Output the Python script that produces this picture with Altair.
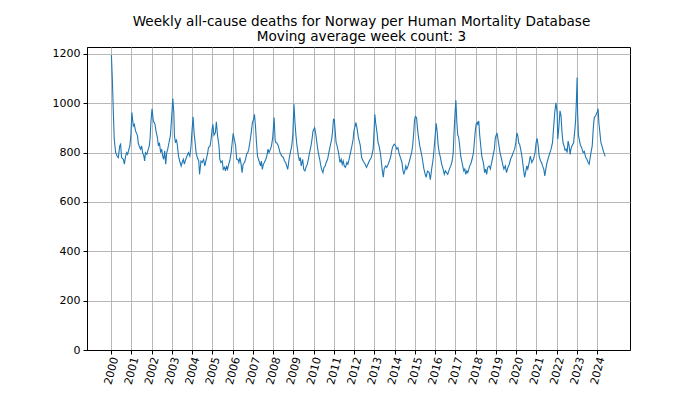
import altair as alt
import pandas as pd

title_lines = ["Weekly all-cause deaths for Norway per Human Mortality Database",
               "Moving average week count: 3"]
year_ticks = list(range(2000, 2025))
y_ticks = [0, 200, 400, 600, 800, 1000, 1200]

# (fraction of the year, weekly deaths, 3-week moving average)
d2000 = [(0.02,1195),(0.066,1097),(0.115,962),(0.16,854),(0.23,800),(0.3,786),(0.36,780),(0.43,827),(0.475,834),(0.52,780),(0.61,773),(0.66,753),(0.72,786),(0.77,800),(0.82,793),(0.885,814),(0.93,827),(0.98,870)]
d2001 = [(0.03,962),(0.1,908),(0.15,915),(0.21,888),(0.26,878),(0.31,868),(0.34,840),(0.39,827),(0.46,814),(0.51,827),(0.56,800),(0.62,787),(0.66,766),(0.7,800),(0.77,793),(0.84,814),(0.89,827),(0.93,860),(0.97,925)]
d2002 = [(0.025,978),(0.09,928),(0.17,915),(0.22,888),(0.29,861),(0.34,827),(0.39,840),(0.45,800),(0.5,814),(0.55,786),(0.6,773),(0.65,807),(0.7,753),(0.75,800),(0.8,814),(0.86,840),(0.93,868),(0.975,922)]
d2003 = [(0.05,1019),(0.1,962),(0.13,868),(0.18,840),(0.23,854),(0.28,827),(0.33,786),(0.39,766),(0.46,746),(0.51,760),(0.57,773),(0.62,753),(0.69,773),(0.75,786),(0.82,800),(0.89,786),(0.95,827),(0.99,880)]
d2004 = [(0.05,945),(0.1,880),(0.16,834),(0.2,800),(0.26,780),(0.33,766),(0.37,712),(0.44,766),(0.5,760),(0.57,773),(0.63,746),(0.7,773),(0.76,793),(0.81,820),(0.89,827),(0.94,854),(0.99,895)]
d2005 = [(0.03,915),(0.08,870),(0.15,880),(0.2,925),(0.26,868),(0.33,827),(0.37,773),(0.42,760),(0.49,766),(0.54,732),(0.6,740),(0.65,726),(0.7,746),(0.75,732),(0.81,753),(0.86,766),(0.93,800),(0.98,840)]
d2006 = [(0.03,878),(0.1,848),(0.15,827),(0.2,773),(0.26,773),(0.31,760),(0.36,780),(0.42,753),(0.47,719),(0.52,753),(0.59,760),(0.64,773),(0.69,793),(0.75,800),(0.8,814),(0.85,840),(0.92,881),(0.98,922)]
d2007 = [(0.04,935),(0.08,955),(0.13,908),(0.18,840),(0.23,786),(0.28,773),(0.33,760),(0.38,746),(0.42,766),(0.47,732),(0.52,753),(0.57,760),(0.64,773),(0.69,786),(0.75,814),(0.8,800),(0.87,814),(0.92,827),(0.98,860)]
d2008 = [(0.05,942),(0.1,850),(0.14,840),(0.18,840),(0.26,827),(0.34,800),(0.43,786),(0.51,780),(0.56,766),(0.62,760),(0.67,746),(0.72,732),(0.79,773),(0.85,800),(0.92,827),(0.97,868)]
d2009 = [(0.03,996),(0.08,921),(0.13,868),(0.18,827),(0.25,786),(0.3,766),(0.34,780),(0.39,746),(0.46,773),(0.51,732),(0.57,726),(0.62,740),(0.69,753),(0.74,773),(0.8,800),(0.87,827),(0.92,854),(0.97,888)]
d2010 = [(0.05,901),(0.11,874),(0.16,840),(0.23,800),(0.3,773),(0.34,753),(0.39,733),(0.46,719),(0.51,740),(0.57,746),(0.62,760),(0.69,773),(0.75,800),(0.82,827),(0.89,854),(0.93,881),(0.98,935)]
d2011 = [(0.02,935),(0.07,881),(0.11,840),(0.16,827),(0.23,800),(0.3,760),(0.36,773),(0.41,753),(0.46,766),(0.51,746),(0.57,740),(0.64,760),(0.69,753),(0.75,773),(0.82,800),(0.89,827),(0.95,854),(0.99,888)]
d2012 = [(0.04,905),(0.09,922),(0.14,900),(0.21,861),(0.3,830),(0.37,780),(0.45,765),(0.53,755),(0.61,740),(0.69,755),(0.77,770),(0.85,780),(0.94,815),(0.98,880)]
d2013 = [(0.02,955),(0.06,922),(0.13,881),(0.18,840),(0.23,827),(0.29,800),(0.34,766),(0.39,726),(0.44,700),(0.48,733),(0.55,746),(0.61,740),(0.68,753),(0.74,766),(0.81,786),(0.87,814),(0.92,827),(0.98,834)]
d2014 = [(0.05,827),(0.1,814),(0.16,820),(0.21,800),(0.26,786),(0.31,773),(0.36,760),(0.4,732),(0.45,712),(0.5,726),(0.55,746),(0.6,733),(0.66,746),(0.73,766),(0.79,786),(0.84,800),(0.89,830),(0.94,880),(0.98,930)]
d2015 = [(0.02,946),(0.08,942),(0.13,895),(0.18,861),(0.24,827),(0.31,800),(0.37,773),(0.44,735),(0.5,715),(0.55,700),(0.62,725),(0.7,720),(0.76,690),(0.82,730),(0.9,775),(0.96,830)]
d2016 = [(0.05,919),(0.1,881),(0.15,827),(0.2,800),(0.26,780),(0.32,753),(0.39,733),(0.45,712),(0.5,726),(0.56,719),(0.62,712),(0.7,733),(0.77,746),(0.84,766),(0.89,800),(0.93,880),(0.98,960)]
d2017 = [(0.02,1012),(0.07,922),(0.11,874),(0.16,861),(0.21,827),(0.26,786),(0.31,766),(0.36,746),(0.41,726),(0.46,733),(0.51,712),(0.56,726),(0.61,719),(0.66,733),(0.7,746),(0.75,753),(0.82,773),(0.89,800),(0.93,840),(0.98,888)]
d2018 = [(0.02,915),(0.07,922),(0.1,915),(0.15,928),(0.2,868),(0.25,827),(0.3,786),(0.34,773),(0.39,753),(0.44,719),(0.49,733),(0.54,712),(0.59,740),(0.66,746),(0.72,733),(0.79,760),(0.85,786),(0.92,814),(0.97,861)]
d2019 = [(0.05,880),(0.1,854),(0.15,827),(0.2,800),(0.26,780),(0.33,753),(0.39,733),(0.46,746),(0.52,719),(0.59,740),(0.66,753),(0.72,773),(0.79,786),(0.85,800),(0.92,814),(0.98,840)]
d2020 = [(0.03,880),(0.08,868),(0.12,840),(0.17,833),(0.25,800),(0.3,773),(0.36,733),(0.41,700),(0.46,719),(0.52,746),(0.57,733),(0.64,760),(0.69,786),(0.77,760),(0.85,773),(0.93,800),(0.98,840)]
d2021 = [(0.03,858),(0.08,830),(0.13,786),(0.2,766),(0.25,760),(0.3,746),(0.36,733),(0.41,706),(0.46,733),(0.52,760),(0.59,780),(0.66,800),(0.72,814),(0.79,840),(0.85,908),(0.9,962),(0.96,1002)]
d2022 = [(0.02,962),(0.05,854),(0.1,900),(0.16,969),(0.21,950),(0.26,881),(0.31,840),(0.36,827),(0.41,810),(0.46,814),(0.51,800),(0.56,847),(0.61,827),(0.66,793),(0.7,814),(0.75,827),(0.83,840),(0.88,880),(0.93,930),(0.97,1010)]
d2023 = [(0.005,1104),(0.03,960),(0.07,870),(0.12,850),(0.17,830),(0.23,820),(0.3,800),(0.36,805),(0.43,780),(0.48,775),(0.55,760),(0.6,753),(0.65,780),(0.7,805),(0.75,827),(0.8,895),(0.85,942),(0.92,949),(0.97,960)]
d2024 = [(0.0,965),(0.04,978),(0.08,920),(0.13,880),(0.18,840),(0.24,825),(0.3,805),(0.35,795),(0.39,785)]

yearly = [d2000, d2001, d2002, d2003, d2004, d2005, d2006, d2007, d2008, d2009,
          d2010, d2011, d2012, d2013, d2014, d2015, d2016, d2017, d2018, d2019,
          d2020, d2021, d2022, d2023, d2024]

rows = []
for yr, pts in zip(year_ticks, yearly):
    for f, v in pts:
        rows.append({"t": yr + f, "deaths": v})
df = pd.DataFrame(rows)

FONT = "DejaVu Sans"

chart = alt.Chart(df).mark_line(color="#1f77b4", strokeWidth=1.1).encode(
    x=alt.X("t:Q", title=None,
            scale=alt.Scale(domain=[1998.815, 2025.615], nice=False, zero=False),
            axis=alt.Axis(values=year_ticks, format="d", labelAngle=285,
                          labelAlign="right", labelBaseline="middle",
                          labelPadding=3, labelOffset=4)),
    y=alt.Y("deaths:Q", title=None,
            scale=alt.Scale(domain=[0, 1228], nice=False, zero=True),
            axis=alt.Axis(values=y_ticks, format="d", labelPadding=3)),
).properties(
    width=543, height=303,
    title=alt.TitleParams(text=title_lines, font=FONT, fontSize=13.6,
                          fontWeight="normal", color="black", anchor="middle",
                          lineHeight=15.5, offset=3, dx=3),
    autosize=alt.AutoSizeParams(type="none"),
    padding={"left": 79, "top": 39, "right": 62, "bottom": 44},
).configure_view(
    stroke="black", strokeWidth=1
).configure_axis(
    grid=True, gridColor="#b0b0b0", gridWidth=0.9,
    domainColor="black", domainWidth=1,
    tickColor="black", tickSize=4, tickWidth=1,
    labelColor="black", labelFont=FONT, labelFontSize=11,
)

chart.save("out.html", embed_options={"renderer": "svg", "actions": False})
